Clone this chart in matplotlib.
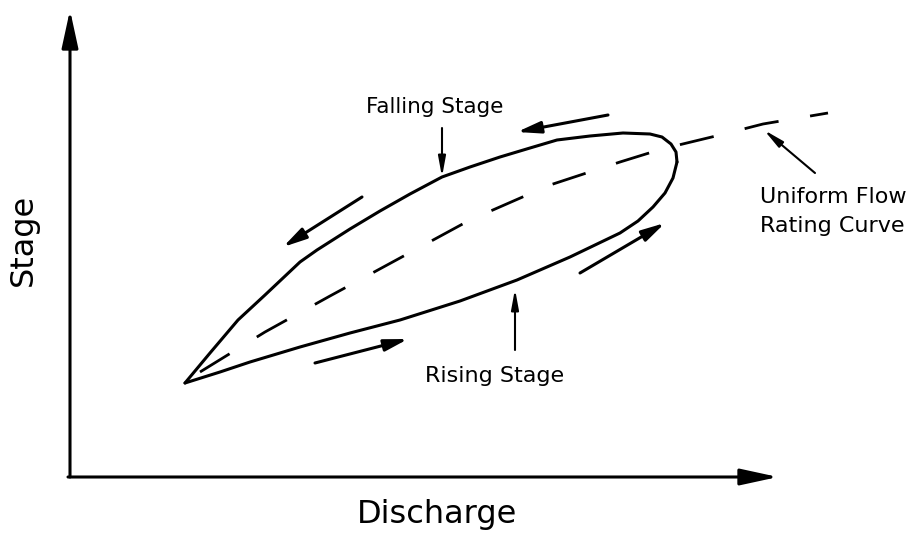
""" Stage-discharge hysteresis loop """
import matplotlib
matplotlib.use("Agg")
import matplotlib.pyplot as plt

plt.rcParams['font.family'] = ['DejaVu Sans']

# loop (pixel units, y downwards)
rising_x = [185, 220, 250, 300, 350, 400, 460, 517, 570, 620, 638, 653, 665, 673, 677]
rising_y = [383, 372, 362, 347, 333, 320, 301, 280, 257, 233, 221, 207, 193, 178, 162]
falling_x = [677, 676, 671, 662, 650, 623, 590, 557, 530, 500, 470, 442, 410, 380,
             350, 317, 300, 265, 238, 210, 185]
falling_y = [162, 152, 144, 137, 134, 133, 136, 140, 148, 157, 167, 177, 194, 211,
             229, 250, 262, 295, 320, 353, 383]

# uniform flow rating curve (dashed)
rating_x = [200, 265, 330, 400, 470, 550, 620, 662, 720, 763, 828]
rating_y = [372, 332, 296, 258, 220, 185, 162, 149, 135, 124, 113]

# direction arrows: (tail, tip)
dir_arrows = [
    ((608, 115), (517, 132)),
    ((362, 197), (283, 247)),
    ((315, 363), (408, 339)),
    ((580, 273), (665, 223)),
]

fig = plt.figure(figsize=(9.11, 5.43), dpi=100)
ax = fig.add_axes([0, 0, 1, 1])
ax.set_xlim(0, 911)
ax.set_ylim(543, 0)
ax.axis("off")

lw = 2.2
ax.plot(rising_x, rising_y, color="k", lw=lw, solid_capstyle="round", solid_joinstyle="round")
ax.plot(falling_x, falling_y, color="k", lw=lw, solid_capstyle="round", solid_joinstyle="round")
ax.plot(rating_x, rating_y, color="k", lw=2.0, dashes=(12.5, 11.5))

# axes
ax.annotate("", xy=(70, 10), xytext=(70, 477),
            arrowprops=dict(arrowstyle="-|>,head_length=2.3,head_width=0.5",
                            lw=2.2, color="k", shrinkA=0, shrinkB=0))
ax.annotate("", xy=(778, 477), xytext=(68, 477),
            arrowprops=dict(arrowstyle="-|>,head_length=2.3,head_width=0.5",
                            lw=2.2, color="k", shrinkA=0, shrinkB=0))

for tail, tip in dir_arrows:
    ax.annotate("", xy=tip, xytext=tail,
                arrowprops=dict(arrowstyle="-|>,head_length=1.4,head_width=0.35",
                                lw=2.2, color="k", shrinkA=0, shrinkB=0))

# pointers
ax.annotate("", xy=(442, 177), xytext=(442, 128),
            arrowprops=dict(arrowstyle="-|>,head_length=1.2,head_width=0.22",
                            lw=1.5, color="k", shrinkA=0, shrinkB=0))
ax.annotate("", xy=(515, 289), xytext=(515, 350),
            arrowprops=dict(arrowstyle="-|>,head_length=1.2,head_width=0.22",
                            lw=1.5, color="k", shrinkA=0, shrinkB=0))
ax.annotate("", xy=(764, 130), xytext=(815, 173),
            arrowprops=dict(arrowstyle="-|>,head_length=1.2,head_width=0.22",
                            lw=1.5, color="k", shrinkA=0, shrinkB=0))

fs = 16
ax.text(435, 113, "Falling Stage", fontsize=15.5, ha="center", va="baseline")
ax.text(495, 382, "Rising Stage", fontsize=fs, ha="center", va="baseline")
ax.text(760, 203, "Uniform Flow", fontsize=fs, ha="left", va="baseline")
ax.text(760, 232, "Rating Curve", fontsize=fs, ha="left", va="baseline")
ax.text(437, 515, "Discharge", fontsize=23, ha="center", va="center")
ax.text(23, 240, "Stage", fontsize=23, ha="center", va="center", rotation=90)

fig.savefig("out.png", dpi=100)
